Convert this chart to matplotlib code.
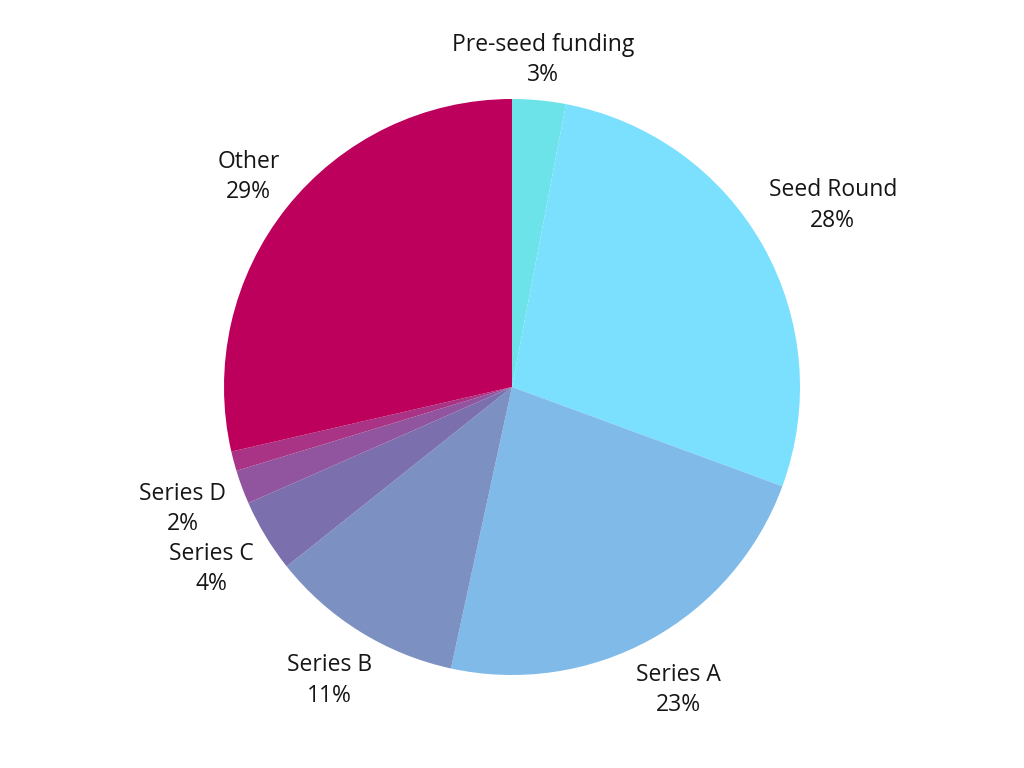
import numpy as np
import matplotlib.pyplot as plt

plt.rcParams['font.family'] = ['Open Sans', 'DejaVu Sans']

# funding stages, share in percent
stages = ['Pre-seed funding', 'Seed Round', 'Series A', 'Series B',
          'Series C', 'Series D', '', 'Other']
shares = [3.0, 27.6, 22.8, 10.9, 4.1, 1.9, 1.1, 28.6]
colors = ['#6BE3E9', '#7AE0FE', '#80BAE8', '#7C91C2',
          '#7B6FAE', '#9155A0', '#A93485', '#BC005C']

total = sum(shares)
labels = []
for name, s in zip(stages, shares):
    if name:
        labels.append('%s\n%d%%' % (name, round(s / total * 100)))
    else:
        labels.append('')

# how far out each label sits (in radii)
label_dist = [1.14, 1.28, 1.2, 1.2, 1.22, 1.22, 1.2, 1.17]


def main():
    fig = plt.figure(figsize=(10.24, 7.68), dpi=100)
    ax = fig.add_axes([0, 0, 1, 1])

    wedges, texts = ax.pie(shares, labels=labels, colors=colors,
                           startangle=90, counterclock=False,
                           labeldistance=1.2,
                           wedgeprops={'linewidth': 0},
                           textprops={'fontsize': 16.5, 'color': '#161616'})
    for w, t, d in zip(wedges, texts, label_dist):
        ang = np.deg2rad((w.theta1 + w.theta2) / 2)
        t.set_position((d * np.cos(ang), d * np.sin(ang)))
        t.set_horizontalalignment('center')
        t.set_verticalalignment('center')
        t.set_multialignment('center')
        t.set_linespacing(1.35)

    # centre at (512, 387) px, radius 288 px
    ax.set_xlim(-512 / 288, 512 / 288)
    ax.set_ylim(-381 / 288, 387 / 288)
    ax.set_aspect('equal')
    ax.axis('off')

    fig.savefig('out.png', dpi=100, facecolor='white')


if __name__ == '__main__':
    main()
